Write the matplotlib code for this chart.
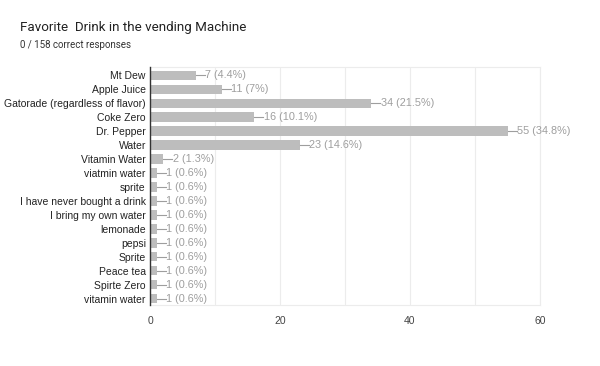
import matplotlib
matplotlib.use('Agg')
import matplotlib.pyplot as plt
import numpy as np

# data
drinks = ['Mt Dew', 'Apple Juice', 'Gatorade (regardless of flavor)', 'Coke Zero',
          'Dr. Pepper', 'Water', 'Vitamin Water', 'viatmin water', 'sprite',
          'I have never bought a drink', 'I bring my own water', 'lemonade', 'pepsi',
          'Sprite', 'Peace tea', 'Spirte Zero', 'vitamin water']
counts = [7, 11, 34, 16, 55, 23, 2, 1, 1, 1, 1, 1, 1, 1, 1, 1, 1]
total = 158
x_ticks = [0, 20, 40, 60]

plt.rcParams['font.family'] = ['Liberation Sans', 'DejaVu Sans']

fig = plt.figure(figsize=(6, 3.66), dpi=100)
ax = fig.add_axes([0.25, 0.167, 0.65, 0.65])

y = np.arange(len(drinks))
ax.barh(y, counts, height=0.68, color='#bdbdbd', zorder=2)

for yi, c in zip(y, counts):
    pct = round(100 * c / total, 1)
    pct_txt = ('%.1f' % pct).rstrip('0').rstrip('.')
    ax.plot([c, c + 1.4], [yi, yi], color='#9e9e9e', lw=0.8, zorder=2)
    ax.text(c + 1.5, yi, '%d (%s%%)' % (c, pct_txt), va='center', ha='left',
            fontsize=7.8, color='#9e9e9e')

ax.set_ylim(len(drinks) - 0.55, -0.6)
ax.set_xlim(0, 60)
ax.set_yticks(y)
ax.set_yticklabels(drinks, fontsize=7.5, color='#222222')
ax.set_xticks(x_ticks)
ax.set_xticklabels([str(t) for t in x_ticks], fontsize=7.5, color='#444444')
ax.set_xticks([10, 30, 50], minor=True)
ax.tick_params(axis='both', which='both', length=0, pad=3)
ax.tick_params(axis='x', pad=8)
ax.grid(axis='x', which='both', color='#ececec', lw=0.8, zorder=0)

for side in ['top', 'right', 'bottom']:
    ax.spines[side].set_color('#ececec')
    ax.spines[side].set_linewidth(0.8)
ax.spines['left'].set_color('#333333')
ax.spines['left'].set_linewidth(1.0)
ax.spines['left'].set_zorder(3)

fig.text(20 / 600, 1 - 27 / 366, 'Favorite  Drink in the vending Machine', fontsize=9.6,
         color='#222222', va='center', ha='left', family=['Roboto', 'DejaVu Sans'])
fig.text(20 / 600, 1 - 45 / 366, '0 / 158 correct responses', fontsize=7,
         color='#333333', va='center', ha='left', family=['Roboto', 'DejaVu Sans'])

fig.savefig('out.png', dpi=100)
